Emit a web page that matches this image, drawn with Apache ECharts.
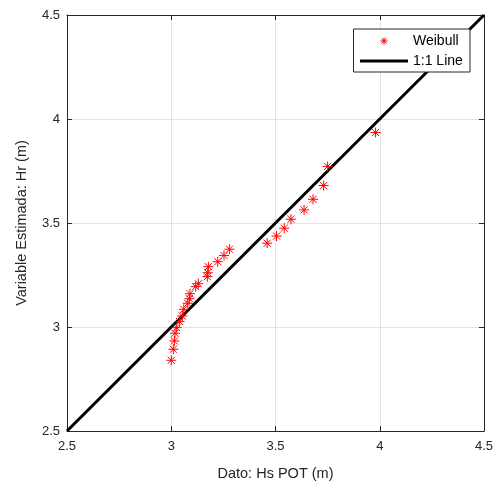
<!DOCTYPE html>
<html><head><meta charset="utf-8">
<script src="https://cdn.jsdelivr.net/npm/echarts@6/dist/echarts.min.js"></script>
<style>html,body{margin:0;padding:0;background:#fff}#c{width:500px;height:486px}</style>
</head><body><div id="c"></div>
<script>
var obsX = [3.00,3.01,3.015,3.018,3.026,3.04,3.053,3.06,3.079,3.087,3.09,3.117,3.13,3.173,3.175,3.178,3.223,3.253,3.279,3.46,3.505,3.542,3.574,3.637,3.68,3.731,3.75,3.98];
var estY = [2.84,2.893,2.933,2.97,2.997,3.026,3.053,3.085,3.114,3.136,3.16,3.194,3.208,3.242,3.261,3.29,3.314,3.344,3.374,3.403,3.437,3.475,3.518,3.563,3.614,3.68,3.772,3.935];
var lineX = [2.5,4.5];
var lineY = [2.5,4.5];
var ticks = [2.5,3,3.5,4,4.5];

var pts = obsX.map(function(x,i){return [x,estY[i]];});
var ln = lineX.map(function(x,i){return [x,lineY[i]];});
var star = 'path://M0,5L10,5M5,0L5,10M1.46,1.46L8.54,8.54M1.46,8.54L8.54,1.46';
var starIcon = 'path://M-4,-4M14,14M0,5L10,5M5,0L5,10M1.46,1.46L8.54,8.54M1.46,8.54L8.54,1.46';
var txt = '#262626';
var font = 'Liberation Sans, Arial, sans-serif';
function ax(pos, show){
  return {type:'value', min:ticks[0], max:ticks[ticks.length-1], interval:ticks[1]-ticks[0], position:pos,
    axisLine:{show:true, lineStyle:{color:txt, width:1}},
    axisTick:{show:true, inside:true, length:5, lineStyle:{color:txt}},
    axisLabel:{show:show, color:txt, fontSize:13, fontFamily:font, formatter:function(v){return String(v);}},
    splitLine:{show:show, lineStyle:{color:'#e3e3e3', width:1}}};
}
var xa = ax('bottom', true);
xa.name='Dato: Hs POT (m)'; xa.nameLocation='middle'; xa.nameGap=35;
xa.nameTextStyle={color:txt, fontSize:14.5, fontFamily:font};
xa.axisLabel.margin=9;
var xt = ax('top', false);
var ya = ax('left', true);
ya.name='Variable Estimada: Hr (m)'; ya.nameLocation='middle'; ya.nameGap=38;
ya.nameTextStyle={color:txt, fontSize:14.5, fontFamily:font};
ya.axisLabel.margin=7;
var yr = ax('right', false);

var chart = echarts.init(document.getElementById('c'));
chart.setOption({
  animation:false,
  grid:{left:67, top:15, width:417, height:417},
  xAxis:[xa, xt],
  yAxis:[ya, yr],
  legend:{right:30, top:29, orient:'vertical', backgroundColor:'#fff', borderColor:'#262626', borderWidth:1,
    padding:[3,5,3,5], itemGap:3, itemWidth:48, itemHeight:13, align:'left',
    textStyle:{color:'#000', fontSize:14, fontFamily:font, width:52, align:'right', lineHeight:16},
    data:[{name:'Weibull', icon:starIcon, itemStyle:{color:'none', borderColor:'#ff0000', borderWidth:1}},
          {name:'1:1 Line', itemStyle:{color:'rgba(0,0,0,0)', borderWidth:0}, lineStyle:{color:'#000', width:3}}]},
  series:[
    {name:'Weibull', type:'scatter', data:pts, symbol:star, symbolSize:10, z:3,
      itemStyle:{color:'none', borderColor:'#ff0000', borderWidth:1, opacity:1}},
    {name:'1:1 Line', type:'line', data:ln, symbol:'none', z:2,
      lineStyle:{color:'#000', width:3}, itemStyle:{color:'#000'}}
  ]
});
</script></body></html>
